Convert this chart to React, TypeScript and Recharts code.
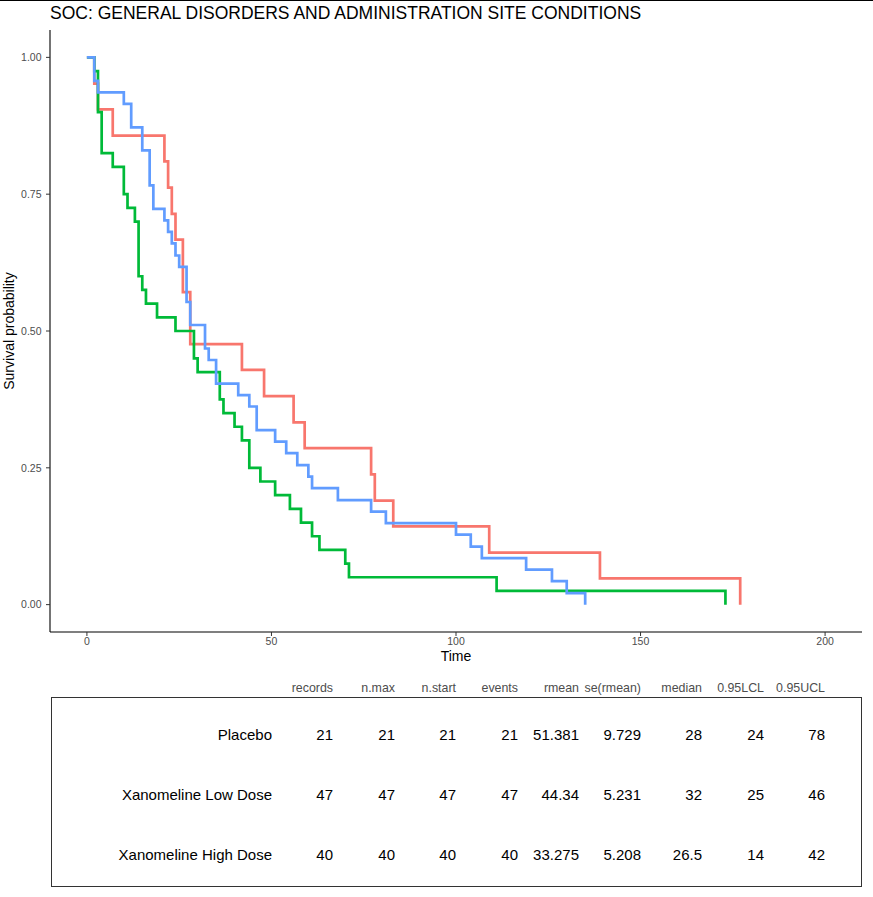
import React from 'react';
import { LineChart, Line, XAxis, YAxis } from 'recharts';

// ---- Kaplan-Meier step data (time, survival) ----
const placeboTimes = [0, 2, 3, 7, 21, 22, 23, 24, 26, 28, 42, 48, 56, 59, 77, 78, 83, 109, 139, 177];
const placeboSurv = [1, 0.952, 0.905, 0.857, 0.81, 0.762, 0.714, 0.667, 0.571, 0.476, 0.429, 0.381, 0.333, 0.286, 0.238, 0.19, 0.143, 0.095, 0.048, 0];

const lowTimes = [0, 2, 3, 10, 12, 15, 17, 18, 21, 22, 23, 24, 25, 27, 28, 32, 33, 35, 41, 44, 46, 51, 54, 57, 60, 61, 68, 77, 81, 100, 104, 107, 119, 126, 130, 135];
const lowSurv = [1, 0.957, 0.936, 0.915, 0.872, 0.83, 0.766, 0.723, 0.702, 0.681, 0.66, 0.638, 0.617, 0.553, 0.511, 0.468, 0.447, 0.404, 0.383, 0.362, 0.319, 0.298, 0.277, 0.255, 0.234, 0.213, 0.191, 0.17, 0.149, 0.128, 0.106, 0.085, 0.064, 0.043, 0.021, 0];

const highTimes = [0, 2, 3, 4, 7, 10, 11, 13, 14, 15, 16, 19, 24, 29, 30, 36, 37, 40, 42, 44, 47, 51, 55, 58, 61, 63, 70, 71, 111, 173];
const highSurv = [1, 0.975, 0.9, 0.825, 0.8, 0.75, 0.725, 0.7, 0.6, 0.575, 0.55, 0.525, 0.5, 0.45, 0.425, 0.375, 0.35, 0.325, 0.3, 0.25, 0.225, 0.2, 0.175, 0.15, 0.125, 0.1, 0.075, 0.05, 0.025, 0];

const xTicks = [0, 50, 100, 150, 200];
const yTicks = [0, 0.25, 0.5, 0.75, 1];

// ---- summary table ----
const groups = ['Placebo', 'Xanomeline Low Dose', 'Xanomeline High Dose'];
const statHeaders = ['records', 'n.max', 'n.start', 'events', 'rmean', 'se(rmean)', 'median', '0.95LCL', '0.95UCL'];
const records = ['21', '47', '40'];
const nMax = ['21', '47', '40'];
const nStart = ['21', '47', '40'];
const events = ['21', '47', '40'];
const rmean = ['51.381', '44.34', '33.275'];
const seRmean = ['9.729', '5.231', '5.208'];
const median = ['28', '32', '26.5'];
const lcl = ['24', '25', '14'];
const ucl = ['78', '46', '42'];

const zip = (t: number[], s: number[]) => t.map((v, i) => ({ t: v, s: s[i] }));
const placeboData = zip(placeboTimes, placeboSurv);
const lowData = zip(lowTimes, lowSurv);
const highData = zip(highTimes, highSurv);

const statCols = [records, nMax, nStart, events, rmean, seRmean, median, lcl, ucl];
const colRight = [333, 395, 456, 518, 579, 641, 702, 764, 825];
const rowBaselines = [740, 800, 860];

const FONT = '"Liberation Sans", Arial, sans-serif';

const YLabel = (props: any) => {
  const vb = props.viewBox || {};
  const cy = (vb.y ?? 30) + (vb.height ?? 602) / 2;
  return (
    <text x={14} y={cy} transform={`rotate(-90, 14, ${cy})`} textAnchor="middle" fontSize={14} fill="#000" fontFamily={FONT}>
      Survival probability
    </text>
  );
};

export default function App() {
  return (
    <div style={{ position: 'absolute', left: 0, top: 0, width: 873, height: 897, background: '#fff', fontFamily: FONT }}>
      <LineChart width={873} height={670} margin={{ top: 30, right: 11, bottom: 4, left: 10 }}>
        <XAxis
          dataKey="t"
          type="number"
          domain={[-10, 210]}
          ticks={xTicks}
          allowDataOverflow
          height={34}
          tickSize={4}
          tickMargin={2}
          axisLine={{ stroke: '#000', strokeWidth: 1.1 }}
          tickLine={{ stroke: '#333' }}
          tick={{ fontSize: 10.5, fill: '#4D4D4D', fontFamily: FONT }}
          label={{ value: 'Time', position: 'insideBottom', offset: 5, fontSize: 14, fill: '#000', fontFamily: FONT }}
        />
        <YAxis
          type="number"
          domain={[-0.05, 1.05]}
          ticks={yTicks}
          allowDataOverflow
          width={40}
          tickSize={4}
          tickMargin={4.5}
          tickFormatter={(v: number) => v.toFixed(2)}
          axisLine={{ stroke: '#000', strokeWidth: 1.1 }}
          tickLine={{ stroke: '#333' }}
          tick={{ fontSize: 10.5, fill: '#4D4D4D', fontFamily: FONT }}
          label={<YLabel />}
        />
        <Line data={placeboData} dataKey="s" type="stepAfter" stroke="#F8766D" strokeWidth={2.7} dot={false} isAnimationActive={false} />
        <Line data={highData} dataKey="s" type="stepAfter" stroke="#00BA38" strokeWidth={2.7} dot={false} isAnimationActive={false} />
        <Line data={lowData} dataKey="s" type="stepAfter" stroke="#619CFF" strokeWidth={2.7} dot={false} isAnimationActive={false} />
      </LineChart>
      <svg width={873} height={897} style={{ position: 'absolute', left: 0, top: 0, pointerEvents: 'none' }}>
        <line x1={0} x2={873} y1={0.5} y2={0.5} stroke="#000" strokeWidth={1} />
        <text x={50} y={19} fontSize={17.5} fill="#000" fontFamily={FONT}>
          SOC: GENERAL DISORDERS AND ADMINISTRATION SITE CONDITIONS
        </text>
        {statHeaders.map((h, i) => (
          <text key={h} x={colRight[i]} y={692} textAnchor="end" fontSize={12.4} fill="#4D4D4D" fontFamily={FONT}>
            {h}
          </text>
        ))}
        <rect x={51.5} y={697.5} width={810} height={189} fill="none" stroke="#333" strokeWidth={1} />
        {groups.map((g, r) => (
          <g key={g}>
            <text x={272} y={rowBaselines[r]} textAnchor="end" fontSize={15} fill="#000" fontFamily={FONT}>
              {g}
            </text>
            {statCols.map((col, c) => (
              <text key={c} x={colRight[c]} y={rowBaselines[r]} textAnchor="end" fontSize={15} fill="#000" fontFamily={FONT}>
                {col[r]}
              </text>
            ))}
          </g>
        ))}
      </svg>
    </div>
  );
}
